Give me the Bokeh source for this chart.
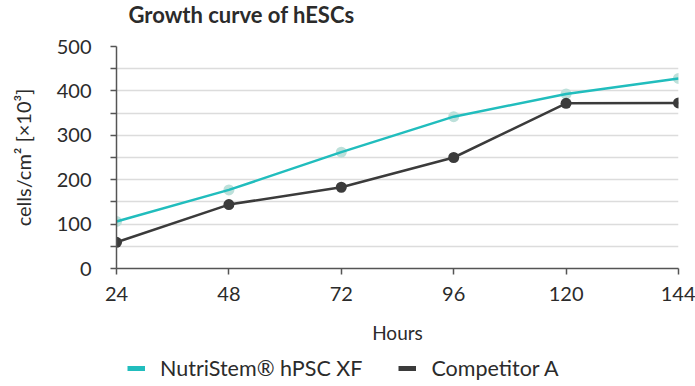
from bokeh.plotting import figure
from bokeh.models import ColumnDataSource, Legend, LegendItem, FixedTicker, Range1d, Title
from bokeh.layouts import column
from bokeh.embed import file_html
from bokeh.resources import INLINE

hours = [24, 48, 72, 96, 120, 144]
nutristem = [106, 177, 262, 342, 393, 428]
competitor = [59, 144, 183, 250, 372, 373]
series_names = ["NutriStem\u00ae hPSC XF", "Competitor A"]
y_ticks = [0, 100, 200, 300, 400, 500]
y_minor = [50, 150, 250, 350, 450]

TEAL = "#21bdbd"
TEAL_PALE = "#bde0da"
DARK = "#3b3b3b"
TXT = "#2b2b2b"
FONT = "Lato"

src = ColumnDataSource(dict(x=hours, n=nutristem, c=competitor))

p = figure(width=695, height=350, output_backend="svg", toolbar_location=None,
           x_range=Range1d(24, 144), y_range=Range1d(0, 500),
           min_border_left=116, min_border_right=17, min_border_top=46, min_border_bottom=82,
           title="Growth curve of hESCs")
p.outline_line_color = None
p.background_fill_color = "white"
p.border_fill_color = "white"

p.title.text_font = FONT
p.title.text_font_size = "22px"
p.title.text_font_style = "bold"
p.title.text_color = TXT
p.title.align = "left"
p.title.vertical_align = "top"
p.title.offset = 12
p.title.standoff = 0

# blank spacer between the frame and the title
p.add_layout(Title(text=" ", text_font_size="10px", standoff=4), "above")

# grid
p.xgrid.grid_line_color = None
p.ygrid.grid_line_color = "#dcdcdc"
p.ygrid.grid_line_width = 1.5
p.ygrid.minor_grid_line_color = "#dcdcdc"
p.ygrid.minor_grid_line_width = 1.5

# axes
p.yaxis.ticker = FixedTicker(ticks=y_ticks, minor_ticks=y_minor)
p.xaxis.ticker = FixedTicker(ticks=hours, minor_ticks=[])
for ax in (p.xaxis[0], p.yaxis[0]):
    ax.axis_line_color = "#555555"
    ax.axis_line_width = 1.5
    ax.major_tick_line_color = "#555555"
    ax.major_tick_line_width = 1.5
    ax.minor_tick_line_color = "#555555"
    ax.minor_tick_line_width = 1.5
    ax.major_tick_in = 0
    ax.major_tick_out = 6
    ax.minor_tick_in = 0
    ax.minor_tick_out = 6
    ax.major_label_text_font = FONT
    ax.major_label_text_font_size = "20px"
    ax.major_label_text_color = TXT
    ax.axis_label_text_font = FONT
    ax.axis_label_text_font_style = "normal"
    ax.axis_label_text_color = TXT

p.yaxis.major_label_standoff = 19
p.yaxis.axis_label = "cells/cm\u00b2 [\u00d710\u00b3]"
p.yaxis.axis_label_text_font_size = "20px"
p.yaxis.axis_label_standoff = 19

p.xaxis.major_label_standoff = 12
p.xaxis.axis_label = "Hours"
p.xaxis.axis_label_text_font_size = "19px"
p.xaxis.axis_label_standoff = 17

# series
p.scatter("x", "n", source=src, size=11, color=TEAL_PALE, line_color=None)
p.line("x", "n", source=src, line_color=TEAL, line_width=2.5)
p.line("x", "c", source=src, line_color=DARK, line_width=2.5)
p.scatter("x", "c", source=src, size=11, color=DARK, line_color=None)

# legend strip (series drawn outside its visible range, used only as legend glyphs)
lg = figure(width=695, height=36, output_backend="svg", toolbar_location=None,
            x_range=Range1d(0, 1), y_range=Range1d(0, 1), min_border=0)
lg.axis.visible = False
lg.grid.grid_line_color = None
lg.outline_line_color = None
l1 = lg.line("x", "n", source=src, line_color=TEAL, line_width=5)
l2 = lg.line("x", "c", source=src, line_color=DARK, line_width=5)

legend = Legend(items=[LegendItem(label=series_names[0], renderers=[l1]),
                       LegendItem(label=series_names[1], renderers=[l2])],
                orientation="horizontal", location=(11, 5),
                padding=0, margin=0, spacing=36, label_standoff=15,
                glyph_width=18, glyph_height=20, label_height=20,
                border_line_color=None, background_fill_alpha=0,
                label_text_font=FONT, label_text_font_size="21.5px",
                label_text_color=TXT)
lg.add_layout(legend, "center")

layout = column(p, lg, spacing=0)
open("out.html", "w").write(file_html(layout, INLINE))
